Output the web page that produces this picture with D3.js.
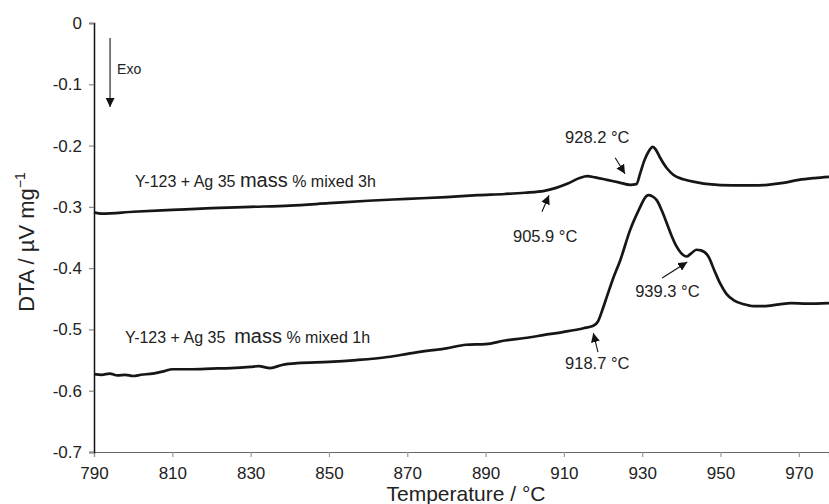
<!DOCTYPE html>
<html>
<head>
<meta charset="utf-8">
<script src="https://cdn.jsdelivr.net/npm/d3@7"></script>
<style>
  body { margin: 0; background: #fff; }
  text { font-family: "Liberation Sans", Arial, sans-serif; fill: #222; }
</style>
</head>
<body>
<svg id="chart" width="829" height="504"></svg>
<script>
// temperatures (°C) and DTA values (µV/mg)
const temp3h = [790, 792, 800, 810, 820, 830, 840, 850, 860, 870, 880, 888, 895, 900, 905, 908, 911, 914, 916, 918, 921, 924, 927, 928.5, 929.5, 930.5, 931.6, 932.7, 933.5, 934.5, 936.3, 938, 940.5, 944, 947, 953, 958, 962, 966, 970, 974, 977.7]
const dta3h = [-0.309, -0.311, -0.308, -0.305, -0.302, -0.300, -0.298, -0.294, -0.290, -0.287, -0.284, -0.281, -0.279, -0.277, -0.274, -0.269, -0.262, -0.253, -0.250, -0.252, -0.256, -0.260, -0.264, -0.263, -0.245, -0.225, -0.210, -0.202, -0.207, -0.219, -0.237, -0.248, -0.255, -0.260, -0.263, -0.265, -0.265, -0.264, -0.261, -0.256, -0.253, -0.251]

const temp1h = [790, 792, 794, 796, 798, 800, 802, 805, 808, 810, 815, 820, 825, 830, 832, 835, 838, 842, 850, 857, 865, 870, 875, 880, 885, 890, 895, 900, 905, 910, 915, 917.5, 918.7, 920, 921, 922.5, 924.4, 926.9, 929.5, 930.5, 931.6, 932.6, 933.7, 935, 936.3, 937.5, 938.8, 940, 941.3, 942.5, 943.8, 945, 946.9, 948.5, 949.9, 951.5, 953.3, 956, 958.4, 961, 965, 968, 972, 977.7]
const dta1h = [-0.573, -0.574, -0.572, -0.575, -0.574, -0.576, -0.574, -0.572, -0.568, -0.565, -0.565, -0.564, -0.563, -0.561, -0.560, -0.563, -0.558, -0.555, -0.553, -0.550, -0.545, -0.540, -0.535, -0.531, -0.525, -0.524, -0.518, -0.514, -0.509, -0.504, -0.498, -0.494, -0.487, -0.465, -0.446, -0.418, -0.387, -0.338, -0.300, -0.287, -0.281, -0.283, -0.289, -0.306, -0.327, -0.347, -0.365, -0.376, -0.381, -0.376, -0.370, -0.371, -0.381, -0.405, -0.425, -0.442, -0.452, -0.459, -0.462, -0.462, -0.459, -0.457, -0.458, -0.457]

const xTicks = [790, 810, 830, 850, 870, 890, 910, 930, 950, 970]
const yTicks = [0, -0.1, -0.2, -0.3, -0.4, -0.5, -0.6, -0.7]

// labels: [mixing time, temperature, value] of the text start
const seriesLabels = [
    ['3h', 800.5, -0.2675],
    ['1h', 797.9, -0.522]
]
// peak notes: text, text anchor, arrow tail, arrow tip (all in data units)
const notes = [
    { text: '928.2 °C', at: [910.3, -0.196], from: [923.1, -0.220], to: [925.6, -0.246] },
    { text: '905.9 °C', at: [897.0, -0.357], from: [904.4, -0.308], to: [906.2, -0.281] },
    { text: '939.3 °C', at: [928.2, -0.447], from: [935.1, -0.416], to: [941.5, -0.390] },
    { text: '918.7 °C', at: [910.3, -0.564], from: [918.7, -0.537], to: [917.5, -0.506] }
]

const chart = d3.select('#chart')

const x = d3.scaleLinear().domain([790, 977.7]).range([94, 829])
const y = d3.scaleLinear().domain([-0.7, 0]).range([452, 23])

const defs = chart.append('defs')
defs.append('marker')
    .attr('id', 'head')
    .attr('viewBox', '0 0 10 10')
    .attr('refX', 10).attr('refY', 5)
    .attr('markerWidth', 9).attr('markerHeight', 9)
    .attr('markerUnits', 'userSpaceOnUse')
    .attr('orient', 'auto')
    .append('path').attr('d', 'M0,0L10,5L0,10Z').attr('fill', '#111')

// x axis
const xAxis = chart.append('g')
    .attr('transform', `translate(0,${y(-0.7)})`)
    .call(d3.axisBottom(x).tickValues(xTicks).tickSize(5).tickPadding(10).tickFormat(d3.format('d')))
xAxis.select('.domain').attr('stroke', '#666').attr('stroke-width', 1.2)
xAxis.selectAll('.tick line').attr('stroke', '#999').attr('stroke-width', 1.2)
xAxis.selectAll('text').attr('font-size', 17).attr('fill', '#222')

// y axis
const yAxis = chart.append('g')
    .attr('transform', `translate(${x(790)},0)`)
    .call(d3.axisLeft(y).tickValues(yTicks).tickSize(5).tickPadding(7)
        .tickFormat(d => d === 0 ? '0' : d3.format('.1f')(d).replace('−', '-')))
yAxis.select('.domain').attr('stroke', '#111').attr('stroke-width', 1.5)
yAxis.selectAll('.tick line').attr('stroke', '#888').attr('stroke-width', 1.2)
yAxis.selectAll('text').attr('font-size', 17).attr('fill', '#222')

// curves
const line = d3.line()
    .x(d => x(d[0]))
    .y(d => y(d[1]))
    .curve(d3.curveMonotoneX)

const curves = [d3.zip(temp3h, dta3h), d3.zip(temp1h, dta1h)]
chart.selectAll('.curve')
    .data(curves)
    .enter()
    .append('path')
    .attr('class', 'curve')
    .attr('d', line)
    .attr('fill', 'none')
    .attr('stroke', '#161616')
    .attr('stroke-width', 2.7)
    .attr('stroke-linejoin', 'round')

// series labels
seriesLabels.forEach(([h, t, v]) => {
    const lab = chart.append('text')
        .attr('x', x(t)).attr('y', y(v))
        .attr('font-size', 16)
    lab.append('tspan').text(h === '1h' ? 'Y-123 + Ag 35\u00a0 ' : 'Y-123 + Ag 35 ')
    lab.append('tspan').attr('font-size', 20).text('mass')
    lab.append('tspan').text(' % mixed ' + h)
})

// peak notes
notes.forEach(n => {
    chart.append('text')
        .attr('x', x(n.at[0])).attr('y', y(n.at[1]))
        .attr('font-size', 16.5)
        .text(n.text)
    chart.append('line')
        .attr('x1', x(n.from[0])).attr('y1', y(n.from[1]))
        .attr('x2', x(n.to[0])).attr('y2', y(n.to[1]))
        .attr('stroke', '#111').attr('stroke-width', 1.1)
        .attr('marker-end', 'url(#head)')
})

// Exo arrow
chart.append('line')
    .attr('x1', x(794.1)).attr('y1', y(-0.0245))
    .attr('x2', x(794.1)).attr('y2', y(-0.137))
    .attr('stroke', '#111').attr('stroke-width', 1.1)
    .attr('marker-end', 'url(#head)')
chart.append('text')
    .attr('x', x(795.9)).attr('y', y(-0.083))
    .attr('font-size', 14)
    .text('Exo')

// axis titles
chart.append('text')
    .attr('x', 466).attr('y', 501)
    .attr('text-anchor', 'middle')
    .attr('font-size', 21)
    .text('Temperature / °C')

const yTitle = chart.append('text')
    .attr('transform', 'translate(34,242) rotate(-90)')
    .attr('text-anchor', 'middle')
    .attr('font-size', 22)
yTitle.append('tspan').text('DTA / µV mg')
yTitle.append('tspan').attr('font-size', 14).attr('dy', -9).text('−1')
</script>
</body>
</html>
